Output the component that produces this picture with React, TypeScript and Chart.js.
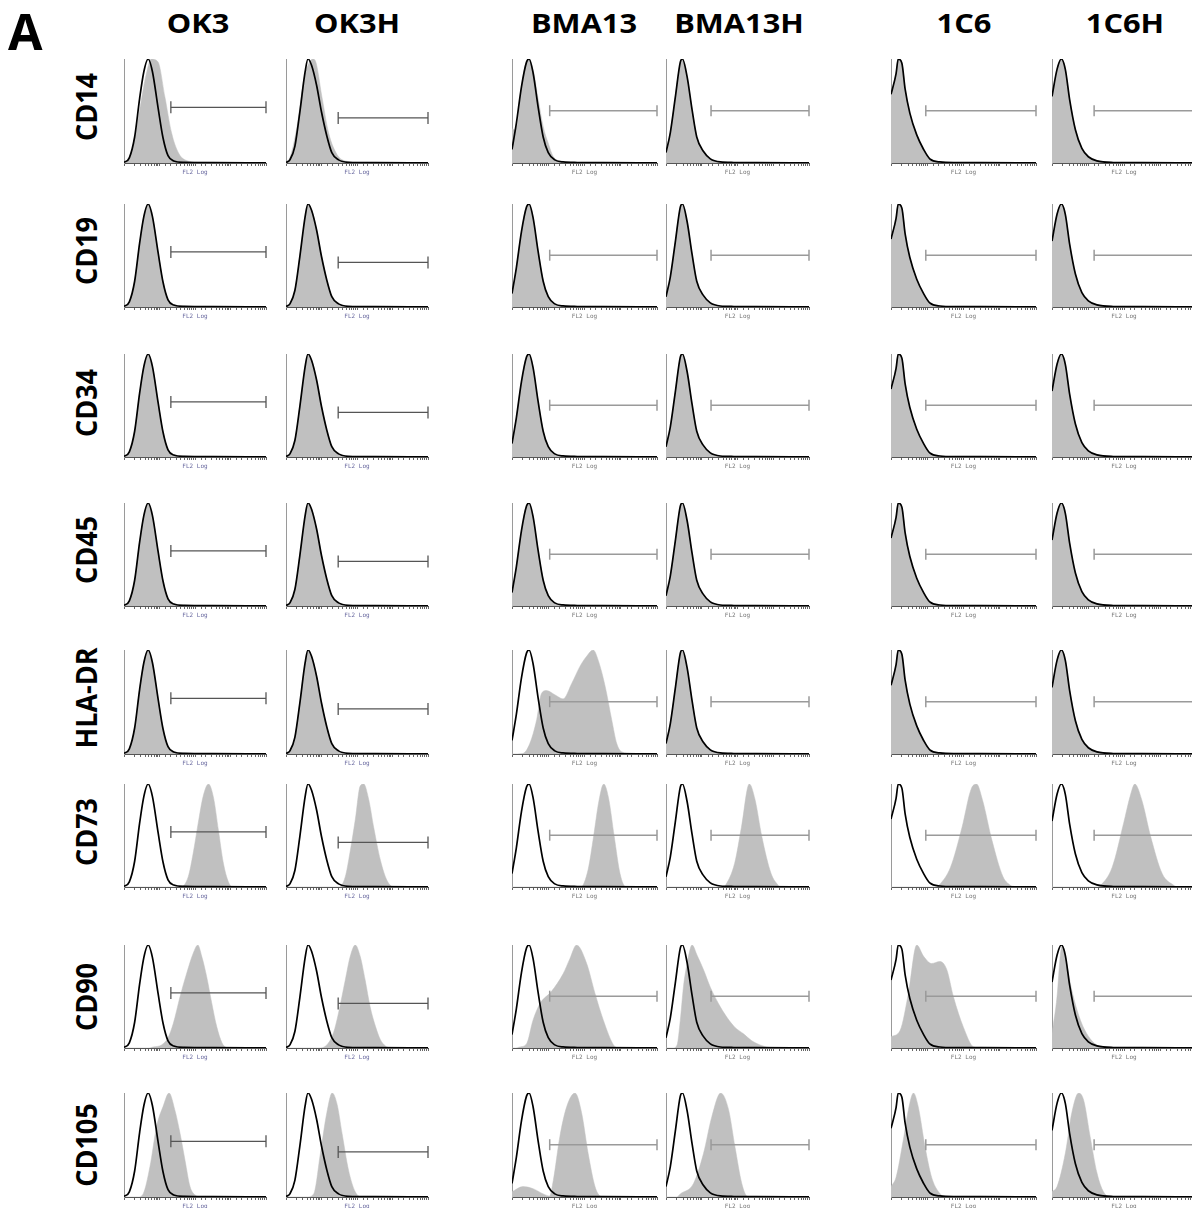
import React, { useEffect, useRef } from 'react';
import { Chart, registerables } from 'chart.js';

Chart.register(...registerables);

// ---------- categories ----------
const cellLines = ['OK3', 'OK3H', 'BMA13', 'BMA13H', '1C6', '1C6H'];
const markers = ['CD14', 'CD19', 'CD34', 'CD45', 'HLA-DR', 'CD73', 'CD90', 'CD105'];
const axisTitle = 'FL2 Log';

// ---------- histograms: log10(FL2) in decades, and % of peak count ----------
// isotype controls (black outline), one per cell line
const isoOK3Log = [0, 0.15, 0.3, 0.44, 0.56, 0.68, 0.8, 0.96, 1.1, 1.24, 1.4, 1.7, 2.5, 4];
const isoOK3Pct = [0.5, 5, 25, 62, 88, 100, 88, 53, 24, 7, 2, 0.6, 0.3, 0.2];
const isoOK3HLog = [0, 0.11, 0.25, 0.39, 0.54, 0.62, 0.72, 0.86, 1.0, 1.15, 1.29, 1.48, 1.75, 2.5, 4];
const isoOK3HPct = [0.5, 3, 16, 49, 88, 100, 94, 75, 49, 26, 10, 3, 0.7, 0.3, 0.2];
const isoBMA13Log = [0, 0.12, 0.26, 0.4, 0.47, 0.58, 0.72, 0.86, 1.0, 1.18, 1.41, 1.8, 2.5, 4];
const isoBMA13Pct = [13, 38, 73, 97, 100, 87, 54, 25, 10, 3, 1, 0.5, 0.3, 0.2];
const isoBMA13HLog = [0, 0.12, 0.26, 0.4, 0.46, 0.59, 0.73, 0.86, 1.05, 1.24, 1.52, 1.9, 2.5, 4];
const isoBMA13HPct = [10, 29, 63, 97, 100, 83, 51, 25, 11, 4, 1, 0.5, 0.3, 0.2];
const iso1C6Log = [0, 0.14, 0.2, 0.3, 0.39, 0.52, 0.71, 0.9, 1.07, 1.35, 1.8, 2.5, 4];
const iso1C6Pct = [66, 86, 100, 96, 71, 48, 27, 13, 4, 1, 0.4, 0.3, 0.2];
const iso1C6HLog = [0, 0.14, 0.26, 0.37, 0.49, 0.65, 0.83, 1.01, 1.25, 1.7, 2.5, 4];
const iso1C6HPct = [64, 90, 100, 90, 61, 32, 14, 6, 2, 0.5, 0.3, 0.2];

// stained samples (grey fill) that differ from the isotype control
const cd14OK3Log = [0, 0.07, 0.26, 0.44, 0.63, 0.77, 0.96, 1.15, 1.34, 1.53, 1.72, 2.1, 4];
const cd14OK3Pct = [0.5, 2, 16, 51, 86, 100, 97, 64, 29, 10, 3, 0.8, 0.2];
const cd14OK3HLog = [0, 0.12, 0.31, 0.5, 0.68, 0.76, 0.83, 1.01, 1.2, 1.44, 1.67, 2.1, 4];
const cd14OK3HPct = [0.5, 6, 35, 80, 98, 100, 98, 64, 29, 8, 2, 0.6, 0.2];
const cd14BMA13Log = [0, 0.08, 0.17, 0.26, 0.4, 0.47, 0.58, 0.72, 0.86, 1.0, 1.14, 1.35, 1.8, 4];
const cd14BMA13Pct = [33, 32, 42, 73, 97, 100, 90, 62, 35, 19, 6, 2, 0.5, 0.2];

const hladrBMA13Log = [0, 0.3, 0.49, 0.68, 0.81, 0.95, 1.18, 1.41, 1.65, 1.87, 2.06, 2.24, 2.38, 2.57, 2.75, 2.89, 3.03, 3.3, 4];
const hladrBMA13Pct = [0, 0.5, 10, 33, 58, 61, 57, 53, 68, 84, 94, 100, 90, 65, 33, 10, 2, 0.5, 0.2];

const cd73OK3Log = [0, 1.6, 1.81, 1.95, 2.09, 2.23, 2.38, 2.52, 2.66, 2.8, 2.94, 3.05, 4];
const cd73OK3Pct = [0, 0, 10, 33, 62, 88, 100, 87, 55, 23, 5, 0, 0];
const cd73OK3HLog = [0, 1.5, 1.67, 1.8, 1.95, 2.09, 2.19, 2.33, 2.47, 2.66, 2.85, 3.05, 4];
const cd73OK3HPct = [0, 0, 10, 33, 65, 98, 100, 85, 58, 26, 6, 0, 0];
const cd73BMA13Log = [0, 1.9, 2.1, 2.25, 2.4, 2.53, 2.66, 2.82, 2.98, 3.14, 4];
const cd73BMA13Pct = [0, 0, 17, 49, 84, 100, 87, 49, 13, 0, 0];
const cd73BMA13HLog = [0, 1.6, 1.67, 1.92, 2.11, 2.33, 2.49, 2.68, 2.94, 3.13, 3.2, 4];
const cd73BMA13HPct = [0, 0, 2, 23, 58, 100, 85, 49, 13, 2, 0, 0];
const cd731C6Log = [0, 1.25, 1.33, 1.64, 1.96, 2.21, 2.36, 2.52, 2.78, 3.09, 3.28, 3.4, 4];
const cd731C6Pct = [0, 0, 2, 19, 58, 95, 100, 85, 46, 10, 2, 0, 0];
const cd731C6HLog = [0, 1.25, 1.36, 1.67, 1.99, 2.17, 2.3, 2.49, 2.74, 3.06, 3.37, 3.5, 4];
const cd731C6HPct = [0, 0, 2, 19, 62, 88, 100, 85, 49, 13, 2, 0, 0];

const cd90OK3Log = [0, 0.7, 0.82, 1.06, 1.24, 1.39, 1.58, 1.77, 1.95, 2.08, 2.19, 2.33, 2.47, 2.61, 2.76, 2.88, 3.0, 4];
const cd90OK3Pct = [0, 0, 1, 3, 10, 24, 50, 73, 92, 100, 89, 69, 44, 21, 5, 0.5, 0, 0];
const cd90OK3HLog = [0, 0.9, 1.15, 1.34, 1.48, 1.67, 1.81, 1.95, 2.09, 2.23, 2.37, 2.52, 2.66, 2.8, 2.95, 4];
const cd90OK3HPct = [0, 0, 3, 15, 34, 66, 89, 100, 89, 66, 40, 21, 8, 2, 0, 0];
const cd90BMA13Log = [0, 0.1, 0.21, 0.4, 0.58, 0.77, 1.09, 1.41, 1.6, 1.78, 2.06, 2.29, 2.52, 2.8, 2.95, 4];
const cd90BMA13Pct = [0, 0, 1, 4, 27, 43, 55, 72, 87, 100, 82, 53, 27, 3, 0, 0];
const cd90BMA13HLog = [0, 0.2, 0.31, 0.4, 0.49, 0.59, 0.73, 0.87, 1.05, 1.24, 1.47, 1.7, 1.93, 2.16, 2.4, 2.63, 2.91, 3.1, 4];
const cd90BMA13HPct = [0, 0, 3, 27, 60, 82, 100, 90, 76, 59, 43, 30, 20, 14, 7, 3, 0.3, 0, 0];
const cd901C6Log = [0, 0.25, 0.48, 0.71, 0.9, 1.12, 1.35, 1.54, 1.72, 2.0, 2.28, 2.5, 4];
const cd901C6Pct = [11, 17, 53, 100, 89, 82, 84, 76, 50, 20, 1, 0, 0];
const cd901C6HLog = [0, 0.14, 0.23, 0.29, 0.36, 0.55, 0.79, 1.06, 1.3, 1.7, 4];
const cd901C6HPct = [14, 50, 90, 100, 90, 56, 27, 9, 2, 0, 0];

const cd105OK3Log = [0, 0.4, 0.54, 0.73, 0.92, 1.1, 1.27, 1.43, 1.58, 1.72, 1.86, 2.0, 2.2, 4];
const cd105OK3Pct = [0, 0, 3, 29, 68, 87, 100, 84, 61, 35, 10, 2, 0, 0];
const cd105OK3HLog = [0, 0.6, 0.78, 0.97, 1.15, 1.3, 1.44, 1.58, 1.76, 1.95, 2.15, 4];
const cd105OK3HPct = [0, 0, 3, 42, 81, 100, 89, 61, 26, 5, 0, 0];
const cd105BMA13Log = [0, 0.3, 0.58, 0.86, 1.04, 1.14, 1.32, 1.51, 1.74, 1.92, 2.1, 2.29, 2.43, 2.6, 4];
const cd105BMA13Pct = [5, 10, 8, 3, 1, 16, 58, 87, 100, 81, 42, 10, 1, 0, 0];
const cd105BMA13HLog = [0, 0.3, 0.4, 0.77, 1.05, 1.28, 1.53, 1.75, 1.93, 2.12, 2.26, 2.4, 4];
const cd105BMA13HPct = [0, 0, 3, 13, 42, 77, 100, 84, 48, 13, 1, 0, 0];
const cd1051C6Log = [0, 0.14, 0.34, 0.48, 0.62, 0.75, 0.94, 1.12, 1.31, 1.5, 4];
const cd1051C6Pct = [10, 19, 55, 84, 100, 87, 48, 19, 5, 0, 0];
const cd1051C6HLog = [0, 0.14, 0.37, 0.55, 0.74, 0.88, 1.06, 1.25, 1.43, 1.65, 4];
const cd1051C6HPct = [5, 10, 42, 81, 100, 93, 58, 23, 5, 0, 0];

// positive-gate marker per cell line: start (decades) and level (% of peak)
const gateStartLog = [1.32, 1.47, 1.04, 1.26, 0.96, 1.17];
const gateLevelPct = [53.5, 43.3, 50.3, 50.3, 50.3, 50.3];

// ---------- tables built from the arrays ----------
type Curve = { log: number[]; pct: number[] };
const C = (log: number[], pct: number[]): Curve => ({ log, pct });
const isotypes: Curve[] = [
  C(isoOK3Log, isoOK3Pct), C(isoOK3HLog, isoOK3HPct),
  C(isoBMA13Log, isoBMA13Pct), C(isoBMA13HLog, isoBMA13HPct),
  C(iso1C6Log, iso1C6Pct), C(iso1C6HLog, iso1C6HPct),
];
// null = stained sample overlaps the isotype control
const stainTable: (Curve | null)[][] = [
  [C(cd14OK3Log, cd14OK3Pct), C(cd14OK3HLog, cd14OK3HPct), C(cd14BMA13Log, cd14BMA13Pct), null, null, null],
  [null, null, null, null, null, null],
  [null, null, null, null, null, null],
  [null, null, null, null, null, null],
  [null, null, C(hladrBMA13Log, hladrBMA13Pct), null, null, null],
  [C(cd73OK3Log, cd73OK3Pct), C(cd73OK3HLog, cd73OK3HPct), C(cd73BMA13Log, cd73BMA13Pct),
   C(cd73BMA13HLog, cd73BMA13HPct), C(cd731C6Log, cd731C6Pct), C(cd731C6HLog, cd731C6HPct)],
  [C(cd90OK3Log, cd90OK3Pct), C(cd90OK3HLog, cd90OK3HPct), C(cd90BMA13Log, cd90BMA13Pct),
   C(cd90BMA13HLog, cd90BMA13HPct), C(cd901C6Log, cd901C6Pct), C(cd901C6HLog, cd901C6HPct)],
  [C(cd105OK3Log, cd105OK3Pct), C(cd105OK3HLog, cd105OK3HPct), C(cd105BMA13Log, cd105BMA13Pct),
   C(cd105BMA13HLog, cd105BMA13HPct), C(cd1051C6Log, cd1051C6Pct), C(cd1051C6HLog, cd1051C6HPct)],
];

// ---------- layout (pixels) ----------
const colLeft = [124, 286, 512, 666, 891, 1052];
const colWidth = [142, 142, 145, 143, 145, 144];
const rowTop = [59, 204, 354, 503, 650, 784, 945, 1093];
const rowHeight = [104, 103, 103, 103, 104, 103, 103, 104];
const headerCenter = [198, 357, 584, 739, 964, 1125];
const labelCenterY = [107, 251, 403, 550, 698, 832, 997, 1145];

const PAD_L = 10, PAD_R = 9, PAD_T = 6, PAD_B = 2, AXIS_H = 12;
const GRAY = 'rgb(192,192,192)';
const FONT = "'Open Sans', 'Noto Sans', sans-serif";

const toPoints = (c: Curve) => c.log.map((d, i) => ({ x: Math.pow(10, d), y: c.pct[i] }));

function Panel({ row, col }: { row: number; col: number }) {
  const ref = useRef<HTMLCanvasElement>(null);
  const W = colWidth[col] + PAD_L + PAD_R;
  const H = rowHeight[row] + PAD_T + AXIS_H + PAD_B;
  useEffect(() => {
    const iso = isotypes[col];
    const stained = stainTable[row][col] || iso;
    const light = col >= 2;
    const gateColor = light ? '#9a9a9a' : '#555555';
    const gl = gateLevelPct[col];
    const chart = new Chart(ref.current as HTMLCanvasElement, {
      type: 'line',
      data: {
        datasets: [
          {
            data: [{ x: Math.pow(10, gateStartLog[col]), y: gl }, { x: 10000, y: gl }],
            borderColor: gateColor,
            borderWidth: light ? 1.5 : 1.3,
            pointStyle: 'line',
            pointRotation: 90,
            pointRadius: light ? 5.5 : 6,
            pointBorderWidth: light ? 1.5 : 1.3,
            pointBorderColor: gateColor,
            fill: false,
            clip: false as any,
          } as any,
          {
            data: toPoints(iso),
            borderColor: '#000000',
            borderWidth: 1.7,
            fill: false,
            pointRadius: 0,
            cubicInterpolationMode: 'monotone',
          },
          {
            data: toPoints(stained),
            borderColor: GRAY,
            borderWidth: 0.5,
            backgroundColor: GRAY,
            fill: 'origin',
            pointRadius: 0,
            cubicInterpolationMode: 'monotone',
          },
        ],
      },
      options: {
        responsive: false,
        animation: false,
        devicePixelRatio: 1,
        events: [],
        layout: { autoPadding: false, padding: { left: PAD_L, right: PAD_R, top: PAD_T, bottom: PAD_B } },
        plugins: { legend: { display: false }, tooltip: { enabled: false } },
        scales: {
          x: {
            type: 'logarithmic',
            min: 1,
            max: 10000,
            ticks: { display: false },
            grid: { display: true, drawOnChartArea: false, drawTicks: true, tickLength: 3, color: '#666666', lineWidth: 1 },
            border: { display: true, color: '#555555', width: 1 },
            title: {
              display: true,
              text: axisTitle,
              color: light ? '#777777' : '#6a6aa0',
              font: { family: "'DejaVu Sans Mono', monospace", size: 6, lineHeight: 1 },
              padding: { top: 3, bottom: 0 },
            },
          },
          y: {
            type: 'linear',
            min: 0,
            max: 100,
            ticks: { display: false },
            grid: { display: true, drawOnChartArea: false, drawTicks: false },
            border: { display: true, color: '#9a9a9a', width: 1 },
            afterFit: (s: any) => { s.width = 0; },
          },
        },
      },
    });
    // align the plot area exactly with the panel frame
    const a = chart.chartArea;
    const wantL = PAD_L, wantT = PAD_T, wantR = W - PAD_R, wantB = PAD_T + rowHeight[row];
    const dl = a.left - wantL, dt = a.top - wantT, dr = wantR - a.right, db = wantB - a.bottom;
    if (Math.abs(dl) + Math.abs(dt) + Math.abs(dr) + Math.abs(db) > 0.01) {
      (chart.options as any).layout.padding = {
        left: PAD_L - dl, top: PAD_T - dt, right: PAD_R - dr, bottom: PAD_B - db,
      };
      chart.update();
    }
    return () => chart.destroy();
  }, [row, col]);
  return (
    <canvas
      ref={ref}
      width={W}
      height={H}
      style={{ position: 'absolute', left: colLeft[col] - PAD_L, top: rowTop[row] - PAD_T, width: W, height: H }}
    />
  );
}

export default function App() {
  return (
    <div style={{ position: 'absolute', left: 0, top: 0, width: 1192, height: 1208, background: '#fff', overflow: 'hidden' }}>
      <div style={{ position: 'absolute', left: 8, top: 5.6, fontFamily: FONT, fontWeight: 700, fontSize: 50, lineHeight: 1, color: '#000' }}>A</div>
      {cellLines.map((name, c) => (
        <div
          key={name}
          style={{
            position: 'absolute', left: headerCenter[c], top: 8.6, transform: 'translateX(-50%) scaleX(1.14)',
            fontFamily: FONT, fontWeight: 700, fontSize: 27, lineHeight: 1, whiteSpace: 'nowrap', color: '#000',
          }}
        >
          {name}
        </div>
      ))}
      {markers.map((m, r) => (
        <div
          key={m}
          style={{
            position: 'absolute', left: 86, top: labelCenterY[r], transform: 'translate(-50%, -50%) rotate(-90deg) scaleY(1.06)',
            fontFamily: FONT, fontWeight: 700, fontSize: 27, lineHeight: 1, whiteSpace: 'nowrap', color: '#000',
          }}
        >
          {m}
        </div>
      ))}
      {markers.map((m, r) => cellLines.map((n, c) => <Panel key={m + n} row={r} col={c} />))}
    </div>
  );
}
